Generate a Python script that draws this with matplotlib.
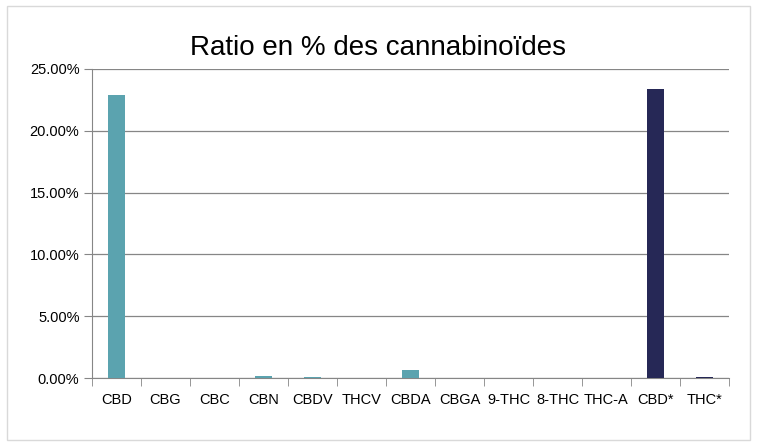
import matplotlib
matplotlib.use("Agg")
import matplotlib.pyplot as plt
from matplotlib.patches import Rectangle
from matplotlib.ticker import FuncFormatter, FixedLocator

plt.rcParams["font.family"] = ["Liberation Sans", "DejaVu Sans"]

categories = ["CBD", "CBG", "CBC", "CBN", "CBDV", "THCV", "CBDA", "CBGA",
              "9-THC", "8-THC", "THC-A", "CBD*", "THC*"]
values = [22.9, 0.0, 0.02, 0.19, 0.10, 0.0, 0.62, 0.0,
          0.02, 0.0, 0.02, 23.4, 0.05]
TEAL = "#5ba3af"
NAVY = "#262856"
colors = [TEAL] * 11 + [NAVY] * 2

fig = plt.figure(figsize=(7.57, 4.46), dpi=100)
fig.patches.append(Rectangle((7 / 757, 6 / 446), 743 / 757, 434 / 446,
                             transform=fig.transFigure, fill=False,
                             edgecolor="#d9d9d9", linewidth=1.0))

ax = fig.add_axes([92 / 757, 1 - 378 / 446, 637 / 757, 309 / 446])
x = range(len(categories))
ax.bar(x, values, width=0.35, color=colors, zorder=3)

ax.set_xlim(-0.5, len(categories) - 0.5)
ax.set_ylim(0, 25)
ax.set_yticks([0, 5, 10, 15, 20, 25])
ax.yaxis.set_major_formatter(FuncFormatter(lambda v, p: f"{v:.2f}%"))
ax.grid(axis="y", color="#868686", linewidth=0.9, zorder=0)

ax.set_xticks(list(x))
ax.set_xticklabels(categories)
ax.xaxis.set_minor_locator(FixedLocator([i - 0.5 for i in range(len(categories) + 1)]))
ax.tick_params(axis="x", which="major", length=0, pad=11, labelsize=10.5)
ax.tick_params(axis="x", which="minor", length=6, color="#868686", direction="out")
ax.tick_params(axis="y", length=6, color="#868686", labelsize=10.5, pad=3)

for s in ["top", "right"]:
    ax.spines[s].set_visible(False)
for s in ["left", "bottom"]:
    ax.spines[s].set_color("#868686")

fig.text(0.5, 1 - 48 / 446, "Ratio en % des cannabinoïdes", ha="center",
         va="center", fontsize=20)

fig.savefig("out.png", dpi=100)
